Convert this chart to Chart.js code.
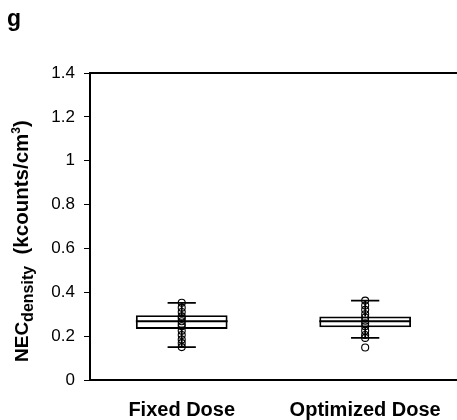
<!DOCTYPE html>
<html>
<head>
<meta charset="utf-8">
<script src="https://cdn.jsdelivr.net/npm/chart.js@4.4.0/dist/chart.umd.min.js"></script>
<style>
  body { margin: 0; background: #fff; overflow: hidden; }
</style>
</head>
<body>
<canvas id="boxChart" width="462" height="420"></canvas>
<script>
// --- Data ---
const groups = ['Fixed Dose', 'Optimized Dose'];
const q1 = [0.233, 0.24];
const median = [0.268, 0.268];
const q3 = [0.295, 0.29];
const whiskerLow = [0.15, 0.192];
const whiskerHigh = [0.352, 0.362];
const fixedPoints = [0.352, 0.33, 0.31, 0.29, 0.28, 0.268, 0.255, 0.245, 0.225, 0.205, 0.185, 0.168, 0.15];
const optimizedPoints = [0.362, 0.34, 0.32, 0.3, 0.285, 0.27, 0.258, 0.245, 0.225, 0.205, 0.192, 0.148];
const yTicks = [0, 0.2, 0.4, 0.6, 0.8, 1, 1.2, 1.4];

const FONT = "'Liberation Sans', Arial, sans-serif";

// --- whiskers, caps, medians, frame and labels ---
const boxExtras = {
    id: 'boxExtras',
    afterDatasetsDraw(chart) {
        const ctx = chart.ctx;
        const xs = chart.scales.x;
        const ys = chart.scales.y;
        const area = chart.chartArea;
        const catW = xs.getPixelForValue(1) - xs.getPixelForValue(0);
        const boxHalf = catW * 0.25;
        const capHalf = catW * 0.077;

        ctx.save();
        ctx.strokeStyle = '#000';
        ctx.lineWidth = 1.8;
        groups.forEach((g, i) => {
            const cx = xs.getPixelForValue(i);
            ctx.beginPath();
            // median
            ctx.moveTo(cx - boxHalf, ys.getPixelForValue(median[i]));
            ctx.lineTo(cx + boxHalf, ys.getPixelForValue(median[i]));
            // whiskers
            ctx.moveTo(cx, ys.getPixelForValue(q3[i]));
            ctx.lineTo(cx, ys.getPixelForValue(whiskerHigh[i]));
            ctx.moveTo(cx, ys.getPixelForValue(q1[i]));
            ctx.lineTo(cx, ys.getPixelForValue(whiskerLow[i]));
            // caps
            ctx.moveTo(cx - capHalf, ys.getPixelForValue(whiskerHigh[i]));
            ctx.lineTo(cx + capHalf, ys.getPixelForValue(whiskerHigh[i]));
            ctx.moveTo(cx - capHalf, ys.getPixelForValue(whiskerLow[i]));
            ctx.lineTo(cx + capHalf, ys.getPixelForValue(whiskerLow[i]));
            ctx.stroke();
        });

        // top frame line
        ctx.lineWidth = 2;
        ctx.beginPath();
        ctx.moveTo(area.left - 1, area.top);
        ctx.lineTo(area.right + 10, area.top);
        ctx.stroke();
        ctx.restore();
    },
    afterDraw(chart) {
        const ctx = chart.ctx;
        ctx.save();
        ctx.fillStyle = '#000';
        ctx.textBaseline = 'alphabetic';

        // panel letter
        ctx.font = 'bold 23px ' + FONT;
        ctx.fillText('g', 7, 26);

        // y axis title, rotated
        ctx.translate(28, 362);
        ctx.rotate(-Math.PI / 2);
        let x = 0;
        const parts = [
            { t: 'NEC', f: 'bold 19px ', dy: 0 },
            { t: 'density', f: 'bold 16px ', dy: 5 },
            { t: '  (kcounts/cm', f: 'bold 20.5px ', dy: 0 },
            { t: '3', f: 'bold 12px ', dy: -8 },
            { t: ')', f: 'bold 20.5px ', dy: 0 }
        ];
        parts.forEach(p => {
            ctx.font = p.f + FONT;
            ctx.fillText(p.t, x, p.dy);
            x += ctx.measureText(p.t).width;
        });
        ctx.restore();
    }
};

const ctx = document.getElementById('boxChart').getContext('2d');
new Chart(ctx, {
    type: 'bar',
    data: {
        labels: groups,
        datasets: [
            {
                label: 'IQR',
                data: groups.map((g, i) => [q1[i], q3[i]]),
                backgroundColor: 'rgba(255,255,255,0)',
                borderColor: '#000',
                borderWidth: 1.8,
                borderSkipped: false,
                categoryPercentage: 1,
                barPercentage: 0.5,
                order: 2
            },
            {
                type: 'line',
                label: 'Fixed Dose points',
                data: fixedPoints.map(v => ({ x: groups[0], y: v })),
                showLine: false,
                pointRadius: 3.5,
                pointBorderWidth: 1.1,
                pointBorderColor: '#000',
                pointBackgroundColor: 'rgba(255,255,255,0)',
                order: 1
            },
            {
                type: 'line',
                label: 'Optimized Dose points',
                data: optimizedPoints.map(v => ({ x: groups[1], y: v })),
                showLine: false,
                pointRadius: 3.5,
                pointBorderWidth: 1.1,
                pointBorderColor: '#000',
                pointBackgroundColor: 'rgba(255,255,255,0)',
                order: 1
            }
        ]
    },
    options: {
        responsive: false,
        animation: false,
        events: [],
        layout: { padding: { left: 0, right: 0, top: 73, bottom: 0 } },
        plugins: {
            legend: { display: false },
            tooltip: { enabled: false }
        },
        scales: {
            x: {
                grid: { display: false },
                border: { display: true, color: '#000', width: 2 },
                ticks: {
                    color: '#000',
                    padding: 10,
                    maxRotation: 0,
                    font: { family: FONT, size: 20, weight: 'bold' }
                },
                afterFit(scale) { scale.height = 40; }
            },
            y: {
                min: 0,
                max: 1.4,
                afterBuildTicks(scale) { scale.ticks = yTicks.map(v => ({ value: v })); },
                grid: {
                    display: true,
                    drawOnChartArea: false,
                    drawTicks: true,
                    tickLength: 6,
                    tickColor: '#000',
                    tickWidth: 1
                },
                border: { display: true, color: '#000', width: 2 },
                ticks: {
                    color: '#000',
                    padding: 9,
                    font: { family: FONT, size: 17 },
                    callback: v => String(parseFloat(v.toFixed(1)))
                },
                afterFit(scale) { scale.width = 90; }
            }
        }
    },
    plugins: [boxExtras]
});
</script>
</body>
</html>
